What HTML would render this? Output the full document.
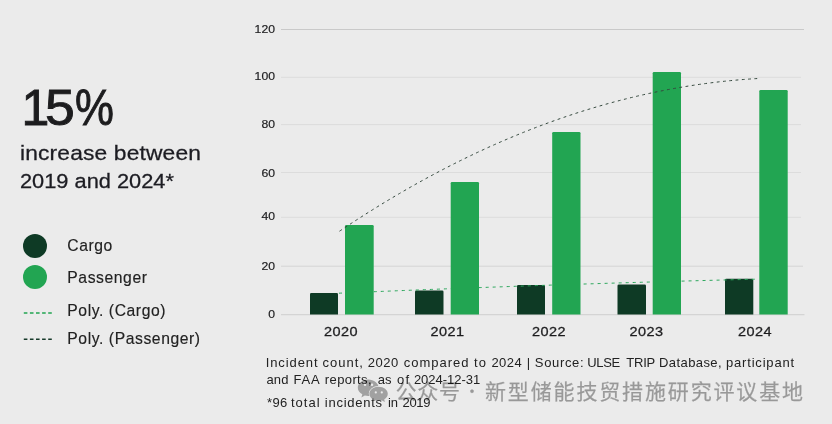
<!DOCTYPE html>
<html lang="en">
<head>
<meta charset="utf-8">
<title>Incident count chart</title>
<style>
html,body{margin:0;padding:0;}
body{width:832px;height:424px;background:#ebebeb;position:relative;overflow:hidden;font-family:"Liberation Sans","Noto Sans CJK SC",sans-serif;color:#1c1c1e;}
.abs{position:absolute;white-space:nowrap;line-height:1;}
.big{left:0;top:82.7px;width:130px;height:50px;font-size:50px;-webkit-text-stroke:0.9px #1c1c1e;}
.big span{position:absolute;top:0;transform-origin:0 0;}
.sub{left:20px;color:#1c1c22;-webkit-text-stroke:0.3px #1c1c22;transform-origin:0 0;}
.leg{left:67.3px;font-size:15.7px;letter-spacing:0.58px;color:#222;-webkit-text-stroke:0.15px #222;}
.dot{position:absolute;left:23px;width:24px;height:24px;border-radius:50%;}
.yl{font-size:12.2px;letter-spacing:0.15px;color:#1c1c1e;text-align:right;width:30px;left:245.3px;-webkit-text-stroke:0.2px #1c1c1e;transform:scaleY(0.88);transform-origin:50% 50%;}
.xl{font-size:14.5px;color:#1c1c1e;width:60px;text-align:center;-webkit-text-stroke:0.3px #1c1c1e;letter-spacing:0.4px;transform:scaleY(0.92);transform-origin:50% 55%;}
.ftl{position:absolute;left:0;width:832px;height:14px;font-size:13px;line-height:1;color:#222;white-space:nowrap;}
.ftl span{position:absolute;top:0;}
.wm{color:#000;opacity:0.35;-webkit-text-stroke:0.25px #000;font-family:"Noto Sans CJK SC","Liberation Sans",sans-serif;font-size:21px;letter-spacing:1.85px;}
svg{position:absolute;left:0;top:0;}
</style>
</head>
<body>
<div class="abs big"><span style="left:21.5px;">1</span><span style="left:44.7px;transform:scaleX(1.07);">5</span><span style="left:74.7px;transform:scaleX(0.875);">%</span></div>
<div class="abs sub" style="top:143.3px;font-size:22.8px;letter-spacing:0.15px;transform:scaleY(0.895);">increase between</div>
<div class="abs sub" style="top:170.7px;font-size:21.8px;transform:scaleY(0.94);">2019 and 2024*</div>

<div class="dot" style="top:234px;background:#0e3a25;"></div>
<div class="dot" style="top:265px;background:#22a552;"></div>
<div class="abs leg" style="top:237.7px;">Cargo</div>
<div class="abs leg" style="top:269.6px;">Passenger</div>
<div class="abs leg" style="top:302.8px;">Poly. (Cargo)</div>
<div class="abs leg" style="top:331.1px;">Poly. (Passenger)</div>

<svg width="832" height="424" viewBox="0 0 832 424">
  <!-- gridlines -->
  <line x1="281" x2="804" y1="29.5" y2="29.5" stroke="#c9c9c9" stroke-width="1"/>
  <line x1="281" x2="801" y1="77.3" y2="77.3" stroke="#dcdcdc" stroke-width="1"/>
  <line x1="281" x2="801" y1="124.6" y2="124.6" stroke="#dcdcdc" stroke-width="1"/>
  <line x1="281" x2="801" y1="172.5" y2="172.5" stroke="#dcdcdc" stroke-width="1"/>
  <line x1="281" x2="801" y1="217.3" y2="217.3" stroke="#dcdcdc" stroke-width="1"/>
  <line x1="281" x2="803" y1="266.2" y2="266.2" stroke="#d4d4d4" stroke-width="1"/>
  <line x1="281" x2="804.5" y1="314.7" y2="314.7" stroke="#cfcfcf" stroke-width="1"/>
  <!-- bars -->
  <g fill="#0e3a25">
    <path d="M310.0,314.5 v-20.2 q0,-1.3 1.3,-1.3 h25.4 q1.3,0 1.3,1.3 v20.2 z"/>
    <path d="M415.0,314.5 v-22.7 q0,-1.3 1.3,-1.3 h25.9 q1.3,0 1.3,1.3 v22.7 z"/>
    <path d="M517.0,314.5 v-28.2 q0,-1.3 1.3,-1.3 h25.4 q1.3,0 1.3,1.3 v28.2 z"/>
    <path d="M617.5,314.5 v-28.7 q0,-1.3 1.3,-1.3 h25.9 q1.3,0 1.3,1.3 v28.7 z"/>
    <path d="M725.0,314.5 v-34.4 q0,-1.3 1.3,-1.3 h25.7 q1.3,0 1.3,1.3 v34.4 z"/>
  </g>
  <path d="M339,293.2 Q540,284.5 755,279.2" fill="none" stroke="#2ca75c" stroke-width="1" stroke-dasharray="3 4"/>
  <g fill="#22a552">
    <path d="M345.0,314.5 v-88.2 q0,-1.3 1.3,-1.3 h26.1 q1.3,0 1.3,1.3 v88.2 z"/>
    <path d="M450.7,314.5 v-131.2 q0,-1.3 1.3,-1.3 h25.7 q1.3,0 1.3,1.3 v131.2 z"/>
    <path d="M552.2,314.5 v-181.2 q0,-1.3 1.3,-1.3 h25.7 q1.3,0 1.3,1.3 v181.2 z"/>
    <path d="M652.7,314.5 v-241.2 q0,-1.3 1.3,-1.3 h25.7 q1.3,0 1.3,1.3 v241.2 z"/>
    <path d="M759.3,314.5 v-223.2 q0,-1.3 1.3,-1.3 h25.8 q1.3,0 1.3,1.3 v223.2 z"/>
  </g>
  <!-- trend lines -->
  <path d="M339.5,231.2 Q549.6,89.9 759.8,78.4" fill="none" stroke="#34483d" stroke-width="1" stroke-dasharray="2.8 3.5"/>
  <!-- legend dashes -->
  <line x1="23.8" x2="52" y1="313" y2="313" stroke="#22a552" stroke-width="1.6" stroke-dasharray="3.6 2.5"/>
  <line x1="23.8" x2="52" y1="339.2" y2="339.2" stroke="#173a2a" stroke-width="1.6" stroke-dasharray="3.6 2.5"/>
</svg>

<div class="abs yl" style="top:22.70px;">120</div>
<div class="abs yl" style="top:70.25px;">100</div>
<div class="abs yl" style="top:117.70px;">80</div>
<div class="abs yl" style="top:166.70px;">60</div>
<div class="abs yl" style="top:210.25px;">40</div>
<div class="abs yl" style="top:260.25px;">20</div>
<div class="abs yl" style="top:307.70px;">0</div>

<div class="abs xl" style="left:311px;top:324px;">2020</div>
<div class="abs xl" style="left:417.5px;top:324px;">2021</div>
<div class="abs xl" style="left:519px;top:324px;">2022</div>
<div class="abs xl" style="left:616.5px;top:324px;">2023</div>
<div class="abs xl" style="left:725px;top:324px;">2024</div>


<div class="ftl" style="top:355.8px;"><span style="left:265.7px;letter-spacing:0.91px">Incident</span> <span style="left:322.6px;letter-spacing:0.98px">count,</span> <span style="left:367.7px;letter-spacing:0.54px">2020</span> <span style="left:403.8px;letter-spacing:0.98px">compared</span> <span style="left:474.1px;letter-spacing:1.10px">to</span> <span style="left:491.4px;letter-spacing:0.47px">2024</span> <span style="left:526.8px;letter-spacing:0.00px">|</span> <span style="left:534.8px;letter-spacing:0.67px">Source:</span> <span style="left:587.2px;letter-spacing:-0.30px">ULSE</span> <span style="left:626.2px;letter-spacing:-0.18px">TRIP</span> <span style="left:659.0px;letter-spacing:0.42px">Database,</span> <span style="left:726.0px;letter-spacing:0.81px">participant</span></div>
<div class="ftl" style="top:372.6px;"><span style="left:266.4px;letter-spacing:0.22px">and</span> <span style="left:293.5px;letter-spacing:0.80px">FAA</span> <span style="left:324.8px;letter-spacing:0.39px">reports,</span> <span style="left:377.8px;letter-spacing:-0.03px">as</span> <span style="left:397.1px;letter-spacing:1.10px">of</span> <span style="left:413.9px;letter-spacing:-0.02px">2024-12-31</span></div>
<div class="ftl" style="top:396.4px;"><span style="left:267.0px;letter-spacing:0.36px">*96</span> <span style="left:291.0px;letter-spacing:1.00px">total</span> <span style="left:324.8px;letter-spacing:0.74px">incidents</span> <span style="left:388.1px;letter-spacing:-0.30px">in</span> <span style="left:402.5px;letter-spacing:-0.30px">2019</span></div>
<svg width="832" height="424" viewBox="0 0 832 424" style="pointer-events:none">
  <g opacity="0.31">
    <path d="M368.2,379.4 c5.8,0 10.4,3.7 10.4,8.3 c0,4.6 -4.6,8.3 -10.4,8.3 c-1.2,0 -2.3,-0.15 -3.4,-0.45 l-3.4,1.9 l0.9,-3.1 c-2.7,-1.5 -4.5,-3.9 -4.5,-6.65 c0,-4.6 4.6,-8.3 10.4,-8.3 z" fill="#000"/>
    <path d="M378.6,386.7 c5.1,0 9.2,3.2 9.2,7.1 c0,2.3 -1.4,4.3 -3.6,5.6 l0.7,2.6 l-2.9,-1.6 c-1.1,0.3 -2.2,0.5 -3.4,0.5 c-5.1,0 -9.2,-3.2 -9.2,-7.1 c0,-3.9 4.1,-7.1 9.2,-7.1 z" fill="#000" stroke="#ebebeb" stroke-width="1.3" paint-order="stroke"/>
    <circle cx="365.0" cy="384.8" r="1.25" fill="#ebebeb"/>
    <circle cx="372.0" cy="384.8" r="1.25" fill="#ebebeb"/>
    <circle cx="375.8" cy="392.4" r="1.1" fill="#ebebeb"/>
    <circle cx="381.8" cy="392.4" r="1.1" fill="#ebebeb"/>
  </g>
</svg>
<div class="abs wm" style="left:395.5px;top:380px;letter-spacing:0.75px;">公众号</div>
<div class="abs wm" style="left:464px;top:382.3px;font-size:16px;letter-spacing:0;">·</div>
<div class="abs wm" style="left:485px;top:380px;">新型储能技贸措施研究评议基地</div>
</body>
</html>
